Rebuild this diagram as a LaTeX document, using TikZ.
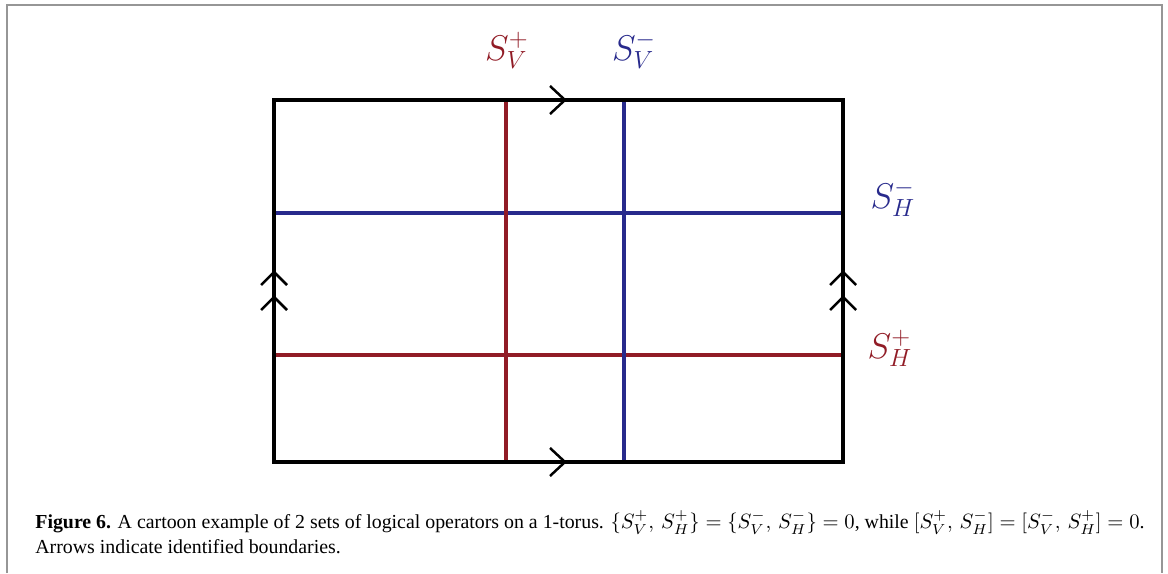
\documentclass[tikz,border=0pt]{standalone}
\usepackage{fontspec}
\setmainfont{Liberation Serif}
\usetikzlibrary{positioning}
\definecolor{opred}{RGB}{145,28,38}
\definecolor{opblue}{RGB}{40,42,140}
\definecolor{framegray}{RGB}{150,150,150}

\begin{document}
\begin{tikzpicture}[
    x=0.017cm, y=-0.017cm,
    torus/.style={draw=black, line width=1.55pt},
    redop/.style={draw=opred, line width=1.55pt},
    blueop/.style={draw=opblue, line width=1.55pt},
    chevron/.style={draw=black, line width=1.2pt},
    oplabel/.style={font=\LARGE}
]
\useasboundingbox (0,0) rectangle (1168,573);

% outer frame
\draw[framegray, line width=1pt] (7,573) -- (7,5) -- (1162,5) -- (1162,573);

% corners of the torus
\coordinate (tl) at (274,100);
\coordinate (tr) at (843,100);
\coordinate (bl) at (274,462);
\coordinate (br) at (843,462);

% logical operators
\draw[blueop] (274,213) -- (843,213);
\draw[redop] (274,355) -- (843,355);
\draw[redop] (506,100) -- (506,462);
\draw[blueop] (624,100) -- (624,462);

% boundary
\draw[torus] (tl) rectangle (br);

% identified boundaries
\draw[chevron] (550,86) -- (565,100) -- (550,114);
\draw[chevron] (550,448) -- (565,462) -- (550,476);
\draw[chevron] (261,285) -- (274,272) -- (287,285);
\draw[chevron] (261,310) -- (274,297) -- (287,310);
\draw[chevron] (830,285) -- (843,272) -- (856,285);
\draw[chevron] (830,310) -- (843,297) -- (856,310);

% labels
\node[oplabel, text=opred] (svp) at (507,50) {$S_V^+$};
\node[oplabel, text=opblue] (svm) at (634,50) {$S_V^-$};
\node[oplabel, text=opblue] (shm) at (893,198) {$S_H^-$};
\node[oplabel, text=opred] (shp) at (890,348) {$S_H^+$};

% caption
\node[anchor=north west, align=left, inner sep=0pt, font=\fontsize{9.6}{12}\selectfont] (caption) at (35,510)
  {\textbf{Figure 6.} A cartoon example of 2 sets of logical operators on a 1-torus. $\{S_V^+,\, S_H^+\} = \{S_V^-,\, S_H^-\} = 0$, while $[S_V^+,\, S_H^-] = [S_V^-,\, S_H^+] = 0$.\\
  Arrows indicate identified boundaries.};
\end{tikzpicture}
\end{document}
